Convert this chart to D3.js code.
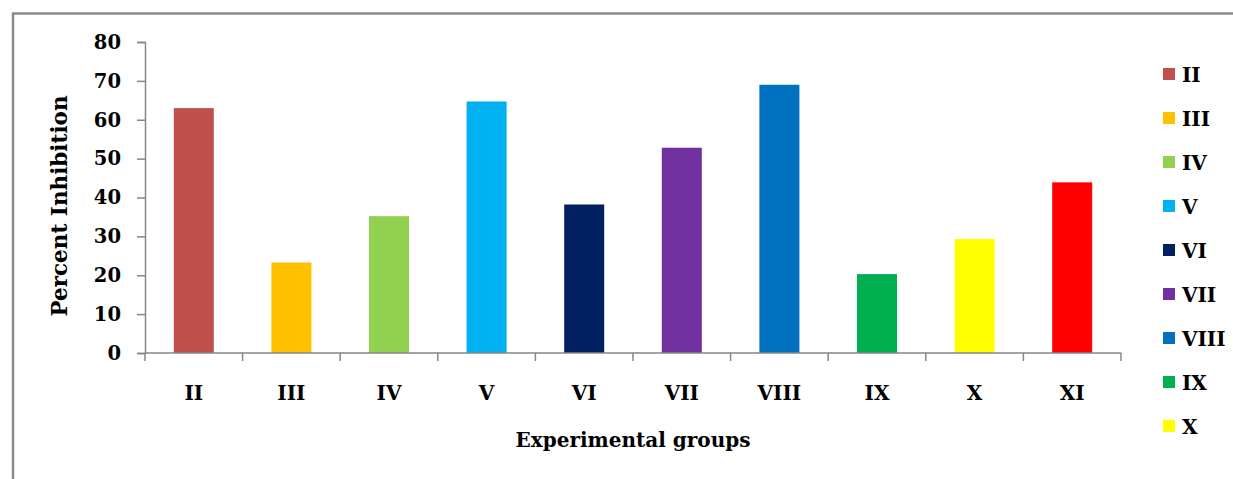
<!DOCTYPE html>
<html>
<head>
<meta charset="utf-8">
<script src="https://cdn.jsdelivr.net/npm/d3@7"></script>
<style>
  body { margin: 0; background: #fff; }
  text { font-family: "DejaVu Serif", serif; font-weight: bold; fill: #000; }
</style>
</head>
<body>
<div id="chart"></div>
<script>
/* DATA */
const groups = ["II", "III", "IV", "V", "VI", "VII", "VIII", "IX", "X", "XI"];
const inhibition = [63.0, 23.3, 35.2, 64.7, 38.2, 52.8, 69.0, 20.3, 29.3, 43.9];
const colors = ["#C0504D", "#FFC000", "#92D050", "#00B0F0", "#002060",
                "#7030A0", "#0070C0", "#00B050", "#FFFF00", "#FF0000"];
const legendGroups = ["II", "III", "IV", "V", "VI", "VII", "VIII", "IX", "X"];
const yTicks = [0, 10, 20, 30, 40, 50, 60, 70, 80];

/* CONSTANTS */
const width = 1233,
  height = 479,
  margin = { top: 42, left: 145, right: 112, bottom: 126 };

const axisColor = "#868686";

const svg = d3.select("#chart")
  .append("svg")
  .attr("width", width)
  .attr("height", height);

// outer chart frame (cropped on right and bottom)
svg.append("rect")
  .attr("x", 13)
  .attr("y", 13.5)
  .attr("width", width + 20)
  .attr("height", height + 20)
  .attr("fill", "none")
  .attr("stroke", "#8a8a8a")
  .attr("stroke-width", 2.5);

/* SCALES */
const xScale = d3.scaleBand()
  .domain(groups)
  .range([margin.left, width - margin.right])
  .paddingInner(0.59)
  .paddingOuter(0.295);

const yScale = d3.scaleLinear()
  .domain([0, 80])
  .range([height - margin.bottom, margin.top]);

const colorScale = d3.scaleOrdinal()
  .domain(groups)
  .range(colors);

/* BARS */
svg.selectAll("rect.bar")
  .data(groups)
  .join("rect")
  .attr("class", "bar")
  .attr("x", d => xScale(d))
  .attr("width", xScale.bandwidth())
  .attr("y", (d, i) => yScale(inhibition[i]))
  .attr("height", (d, i) => yScale(0) - yScale(inhibition[i]))
  .attr("fill", d => colorScale(d));

/* Y AXIS */
const yAxis = d3.axisLeft(yScale)
  .tickValues(yTicks)
  .tickSize(8)
  .tickPadding(16);

const yAxisGroup = svg.append("g")
  .attr("transform", `translate(${margin.left},0)`)
  .call(yAxis);

yAxisGroup.select(".domain").attr("stroke", axisColor).attr("stroke-width", 1.5);
yAxisGroup.selectAll(".tick line").attr("stroke", axisColor).attr("stroke-width", 1.5);
yAxisGroup.selectAll(".tick text")
  .attr("font-size", 19.5)
  .attr("font-family", "DejaVu Serif")
  .attr("font-weight", "bold")
  .attr("fill", "#000");

/* X AXIS */
const x0 = margin.left, x1 = width - margin.right, y0 = yScale(0);
const step = xScale.step();

const xAxisGroup = svg.append("g");
xAxisGroup.append("line")
  .attr("x1", x0).attr("x2", x1)
  .attr("y1", y0).attr("y2", y0)
  .attr("stroke", axisColor)
  .attr("stroke-width", 1.5);

xAxisGroup.selectAll("line.cat-tick")
  .data(d3.range(groups.length + 1))
  .join("line")
  .attr("class", "cat-tick")
  .attr("x1", i => x0 + i * step)
  .attr("x2", i => x0 + i * step)
  .attr("y1", y0)
  .attr("y2", y0 + 8)
  .attr("stroke", axisColor)
  .attr("stroke-width", 1.5);

xAxisGroup.selectAll("text.cat")
  .data(groups)
  .join("text")
  .attr("class", "cat")
  .attr("x", d => xScale(d) + xScale.bandwidth() / 2)
  .attr("y", 400)
  .attr("text-anchor", "middle")
  .attr("font-size", 20)
  .text(d => d);

/* AXIS TITLES */
svg.append("text")
  .attr("x", (x0 + x1) / 2)
  .attr("y", 447)
  .attr("text-anchor", "middle")
  .attr("font-size", 20)
  .text("Experimental groups");

svg.append("text")
  .attr("transform", `translate(67,206) rotate(-90)`)
  .attr("text-anchor", "middle")
  .attr("font-size", 21.5)
  .text("Percent Inhibition");

/* LEGEND */
const legend = svg.append("g")
  .attr("transform", "translate(1163,74)");

const legendItem = legend.selectAll("g")
  .data(legendGroups)
  .join("g")
  .attr("transform", (d, i) => `translate(0,${i * 44})`);

legendItem.append("rect")
  .attr("x", 0)
  .attr("y", -6)
  .attr("width", 12)
  .attr("height", 12)
  .attr("fill", d => colorScale(d));

legendItem.append("text")
  .attr("x", 19)
  .attr("y", 7.5)
  .attr("font-size", 20)
  .text(d => d);
</script>
</body>
</html>
